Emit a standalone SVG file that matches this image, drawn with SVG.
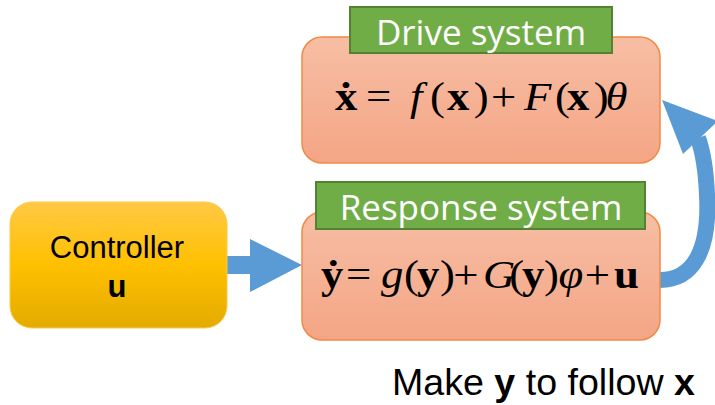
<svg xmlns="http://www.w3.org/2000/svg" width="715" height="405" viewBox="0 0 715 405">
<defs>
<linearGradient id="peach" x1="0" y1="0" x2="0" y2="1">
<stop offset="0" stop-color="#F7BEA4"/>
<stop offset="1" stop-color="#F4A585"/>
</linearGradient>
<linearGradient id="gold" x1="0" y1="0" x2="0" y2="1">
<stop offset="0" stop-color="#FFC945"/>
<stop offset="0.5" stop-color="#FFC000"/>
<stop offset="1" stop-color="#E3AB00"/>
</linearGradient>
<style>
.sys{fill:url(#peach);stroke:#F08A45;stroke-width:1.5}
.lab{fill:#70AD47;stroke:#548235;stroke-width:2}
.labt{font-family:"Open Sans",sans-serif;font-size:35px;fill:#FFFFFF;text-anchor:middle}
.eq{font-family:"Liberation Serif",serif;font-size:40px;fill:#000}
.b{font-weight:bold}
.i{font-style:italic}
.sans{font-family:"Liberation Sans",Arial,sans-serif;fill:#000}
.arrow{fill:#5B9BD5}
</style>
</defs>
<rect width="715" height="405" fill="#FFFFFF"/>
<g id="connectors">
<path class="arrow" d="M227,256 H250 V239 L302,265 L250,292 V274 H227 Z"/>
<path d="M660,280 C692,280 710,252 707,195 C706,170 703,152 698,138" fill="none" stroke="#5B9BD5" stroke-width="16"/>
<polygon class="arrow" points="662,100 683,154 718,121"/>
</g>
<g id="controller">
<rect x="10" y="202" width="217" height="126" rx="22" fill="url(#gold)" stroke="#FFC84A" stroke-width="1"/>
<text class="sans" x="117" y="258" font-size="31" text-anchor="middle">Controller</text>
<text class="sans" x="117" y="297" font-size="31" font-weight="bold" text-anchor="middle">u</text>
</g>
<g id="drive">
<rect class="sys" x="302" y="37" width="358" height="126" rx="20"/>
<rect class="lab" x="350" y="7" width="262" height="46"/>
<text class="labt" x="481" y="45">Drive system</text>
<text class="eq" transform="translate(335,110) scale(1.12,1)"><tspan class="b" x="0">x&#x307;</tspan><tspan x="27.7">=</tspan><tspan class="i" x="67">f</tspan><tspan x="84.8">(</tspan><tspan class="b" x="100">x</tspan><tspan x="123.8">)</tspan><tspan x="139.3">+</tspan><tspan class="i" x="168.8">F</tspan><tspan x="196.4">(</tspan><tspan class="b" x="207.1">x</tspan><tspan x="231">)</tspan><tspan class="i" x="241.5">θ</tspan></text>
</g>
<g id="response">
<rect class="sys" x="302" y="212" width="358" height="128" rx="20"/>
<rect class="lab" x="316" y="182" width="329" height="47"/>
<text class="labt" x="481" y="220">Response system</text>
<text class="eq" transform="translate(321,288) scale(1.12,1)"><tspan class="b" x="0">y&#x307;</tspan><tspan x="22.3">=</tspan><tspan class="i" x="53.6">g</tspan><tspan x="74.1">(</tspan><tspan class="b" x="85.7">y</tspan><tspan x="106.3">)</tspan><tspan x="118">+</tspan><tspan class="i" x="144.6">G</tspan><tspan x="168">(</tspan><tspan class="b" x="179.5">y</tspan><tspan x="199.2">)</tspan><tspan class="i" x="212">φ</tspan><tspan x="235.5">+</tspan><tspan class="b" x="261.6">u</tspan></text>
</g>
<text class="sans" x="392" y="395" font-size="37" textLength="303" lengthAdjust="spacingAndGlyphs">Make <tspan font-weight="bold">y</tspan> to follow <tspan font-weight="bold">x</tspan></text>
</svg>
